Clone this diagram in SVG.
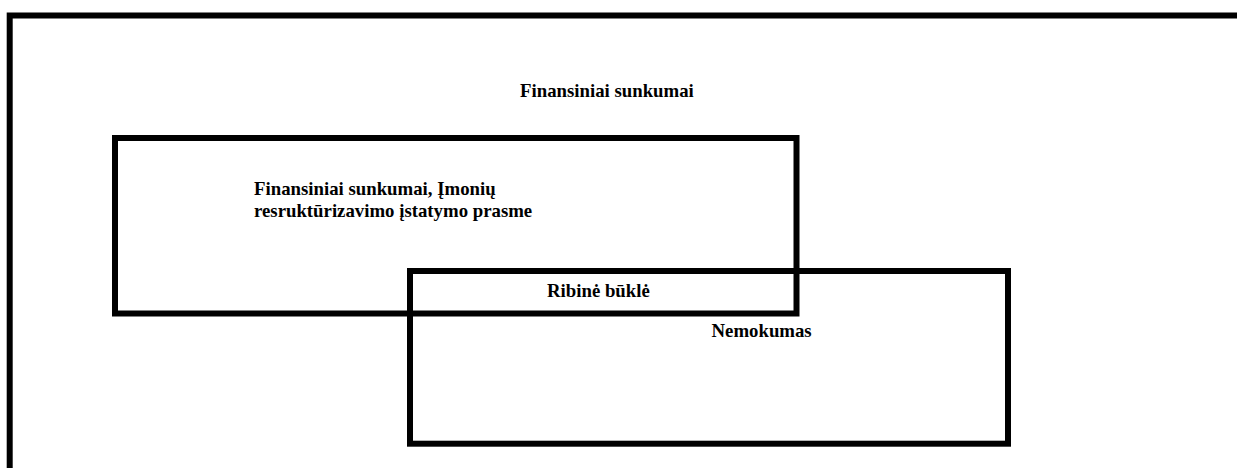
<svg xmlns="http://www.w3.org/2000/svg" width="1237" height="468" viewBox="0 0 1237 468">
<style>
.box{fill:none;stroke:#000;stroke-width:6}
.t{font-family:"Liberation Serif","Times New Roman",serif;font-weight:bold;font-size:18.8px;fill:#000}
</style>
<rect width="1237" height="468" fill="#fff"/>
<g id="outer">
<rect class="box" x="9.7" y="15.5" width="1240" height="470"/>
<text class="t" x="520" y="96.7">Finansiniai sunkumai</text>
</g>
<g id="restructuring">
<rect class="box" x="115" y="138" width="681.5" height="175.5"/>
<text class="t" x="254" y="195.3">Finansiniai sunkumai, Įmonių</text>
<text class="t" x="254" y="217.3">resruktūrizavimo įstatymo prasme</text>
</g>
<g id="insolvency">
<rect class="box" x="410" y="271" width="598" height="172.7"/>
<text class="t" x="547" y="296.7">Ribinė būklė</text>
<text class="t" x="711.5" y="336.7">Nemokumas</text>
</g>
<g id="connectors"/>
</svg>
